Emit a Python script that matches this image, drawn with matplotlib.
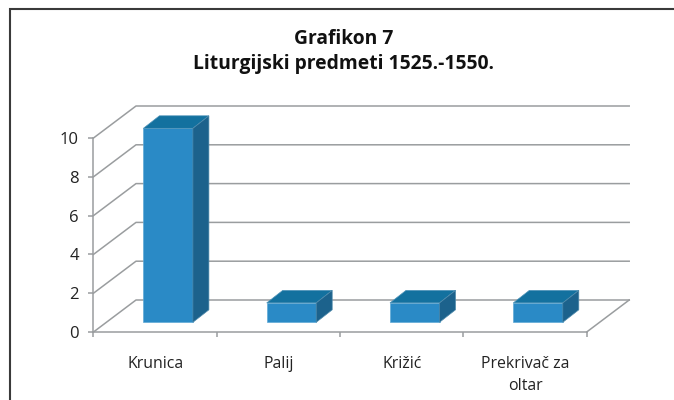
import matplotlib
matplotlib.use("Agg")
import matplotlib.pyplot as plt
from matplotlib.patches import Polygon, Rectangle

categories = ["Krunica", "Palij", "Križić", "Prekrivač za\noltar"]
values = [10, 1, 1, 1]
yticks = [0, 2, 4, 6, 8, 10]

W, H = 674, 400
GREY = "#9a9d9f"

plt.rcParams["font.family"] = ["Open Sans", "DejaVu Sans"]

fig = plt.figure(figsize=(W / 100, H / 100), dpi=100)
fig.add_artist(Rectangle((9.5 / W, -0.05), 0.1 + (W - 9.5) / W, 1.05 - 9.5 / H,
                         transform=fig.transFigure, fill=False, ec="#3a3a3a", lw=1.5))

fig.text(343.5 / W, 1 - 38.5 / H, "Grafikon 7", ha="center", va="center",
         fontsize=13.9, fontweight="bold", color="#111111")
fig.text(343.5 / W, 1 - 63.5 / H, "Liturgijski predmeti 1525.-1550.", ha="center", va="center",
         fontsize=13.9, fontweight="bold", color="#111111")

# axes sits on the front plane of the fake 3d box
ax = fig.add_axes([93.5 / W, 1 - 332 / H, 493.2 / W, 194 / H])
ax.patch.set_alpha(0)
ax.set_xlim(0, 4)
ax.set_ylim(0, 10)

# depth of the box and of the bars, in data units
px_x = 4 / 493.2
px_y = 10 / 194
dx, dy = 42.5 * px_x, 32 * px_y
bar_w = 49.5 * px_x
bar_dx, bar_dy = 16 * px_x, 12.5 * px_y
bar_x0, bar_y0 = 13 * px_x, 9.7 * px_y

for t in yticks:
    ax.plot([0, dx, 4 + dx], [t, t + dy, t + dy], color=GREY, lw=1.1, clip_on=False, zorder=1)
ax.plot([4, 4 + dx], [0, dy], color=GREY, lw=1.1, clip_on=False, zorder=1)

for i, v in enumerate(values):
    left = i + 0.5 - bar_w / 2 + bar_x0
    right = left + bar_w
    bot = bar_y0
    top = bar_y0 + v
    ax.add_patch(Polygon([(left, bot), (right, bot), (right, top), (left, top)],
                         fc="#2a8ac6", ec="#5fa9d6", lw=0.5, clip_on=False, zorder=3))
    ax.add_patch(Polygon([(left, top), (right, top), (right + bar_dx, top + bar_dy), (left + bar_dx, top + bar_dy)],
                         fc="#13719f", ec="#4f93b8", lw=0.5, clip_on=False, zorder=3))
    ax.add_patch(Polygon([(right, bot), (right + bar_dx, bot + bar_dy), (right + bar_dx, top + bar_dy), (right, top)],
                         fc="#1c628c", ec="#4f8aab", lw=0.5, clip_on=False, zorder=3))

for s in ["top", "right"]:
    ax.spines[s].set_visible(False)
for s in ["left", "bottom"]:
    ax.spines[s].set_color(GREY)
    ax.spines[s].set_linewidth(1.1)

ax.set_yticks(yticks)
ax.set_xticks(range(5))
ax.set_xticklabels([])
ax.set_xticks([0.5, 1.5, 2.5, 3.5], labels=categories, minor=True)
ax.tick_params(axis="both", which="major", length=3.5, width=1.1, color=GREY)
ax.tick_params(axis="y", labelsize=12, labelcolor="#222222", pad=7)
ax.tick_params(axis="x", which="minor", length=0, labelsize=11.4, labelcolor="#222222", pad=17.5)
for lab in ax.get_xticklabels(minor=True):
    lab.set_linespacing(1.45)

fig.savefig("out.png", dpi=100)
